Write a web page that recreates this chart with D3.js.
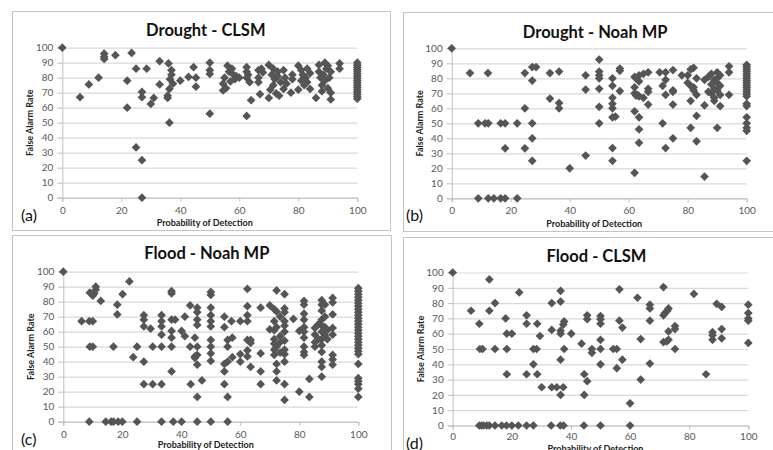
<!DOCTYPE html>
<html lang="en">
<head>
    <meta charset="UTF-8">
    <title>POD vs FAR scatter panels</title>
    <style>
        body, html {
            margin: 0;
            padding: 0;
            width: 773px;
            height: 450px;
            overflow: hidden;
            background: #fff;
        }
        svg { display: block; }
        .frame { fill: #fff; stroke: #c4c4c4; stroke-width: 1px; }
        .grid line { stroke: #d9d9d9; stroke-width: 1.2px; }
        .grid path { display: none; }
        .axis path, .axis line { stroke: #bfbfbf; }
        .axis text { fill: #595959; font: 10px Lato, "Open Sans", sans-serif; }
        .title { font: bold 16.5px Lato, "Open Sans", sans-serif; fill: #111; }
        .axis-title { font: bold 9px Lato, "Open Sans", sans-serif; fill: #222; }
        .tag { font: 16px Lato, "Open Sans", sans-serif; fill: #111; }
        .pt { fill: #555; }
    </style>
</head>
<body>
    <script src="https://d3js.org/d3.v7.min.js"></script>
    <script>
        // [probability of detection, false alarm rate]
        const droughtClsm = [
            [0,100],[6,67],[9,75.5],[12.3,80],[14.2,96],[14.2,94],[14.2,92.5],[18,95],[22,78],[22,60],
            [23.5,96.5],[25,86],[25,33.5],[27,25],[27,0],[27,70.5],[27,67],[28.6,86],[30,62.5],[31,66.5],
            [33,91],[33,75.5],[36,89.5],[36.3,50],[35.7,68],[35.7,66.5],[36.5,79],[37,85],[37,82],[37.5,76],
            [36.3,72.5],[40,78],[42.8,80.5],[44.5,87],[45.3,80],[45.3,74],[50,90],[50,85],[50,82.5],[50,56],
            [54.5,71.5],[54.5,76],[55,80],[55.5,73],[56,88],[56.5,84],[57,77.5],[57.5,86],[58,82],[58.5,79],
            [59,81],[60,80],[62.5,87],[62.5,84],[62.5,80],[62.5,54.5],[63,82],[63.5,77],[64,65],[66.5,85],
            [66.5,80],[66.5,77],[67,69],[67.5,86],[68,83.5],[70,88.5],[70,66.5],[70.5,72],[71,82],[71.5,86],
            [71.5,75],[72,79],[72.5,69.5],[73,84],[73,81],[73.5,68],[74,77],[75,85],[75,72.5],[75.5,80],
            [76,76],[77.5,70],[78,82],[78,79],[80,88],[80,72],[81,85],[81,78],[81.5,82],[82,75],
            [82.5,80],[83,86],[83,77],[84,83],[84,72.5],[86,66.5],[87,88.5],[87,84],[87.5,80],[88,75],
            [88,71],[88.5,82],[89,90],[89,78],[89.5,86],[90,73],[90,88],[90.5,80],[91,65.5],[91,84],
            [91,70],[94,89.5],[94,86],
            [100,90],[100,88.5],[100,87],[100,85.5],[100,84],[100,82.5],[100,81],[100,79.5],[100,78],
            [100,76.5],[100,75],[100,73.5],[100,72],[100,70.5],[100,69],[100,67.5],[100,66]
        ];

        const droughtNoah = [
            [0,100],[6.2,83.5],[12.3,83.5],
            [9,50],[11.3,50],[12.4,50],[16.6,50],[18.1,50],[22.2,50],[27.3,50],
            [9,0],[12.4,0],[14.3,0],[16.6,0],[18.1,0],[22.2,0],
            [18.1,33.3],[24.8,83.5],[24.8,60],[24.8,33.3],[27.3,87.5],[28.6,87.5],[27.3,78.5],[27.3,40],[27.3,25],
            [33.3,83.5],[33.3,66.5],[36.4,84.5],[36.4,63.5],[36.4,60],[40,20],
            [45.4,82],[45.4,72.5],[45.4,28.5],
            [50,92.5],[50,84.5],[50,82],[50,80],[50,73],[50,61],[50,50],
            [54.5,80],[54.5,75],[54.5,67],[54.5,63],[54.5,60],[54.5,54],[55.5,54.5],[54.5,33.5],[54.5,25],
            [57,86.5],[57,85],[57,71.5],
            [62,81],[62.5,80],[62,74],[62,70],[62.5,68.5],[63,69],[62,58],[62,17],
            [63.5,82],[63.5,78],[63.5,68],[63.5,54],[63.5,46],[63.5,37],
            [65,83],[65,67],[66.6,84],[66.6,73],[66.6,71],[66.6,62.5],
            [70.5,84],[71.5,75],[71.5,50],[72.5,84],[72.5,79],[72.5,69],[72.5,33.5],
            [75,85.5],[75,72],[75,71],[75,62.5],[75,40],
            [78,82],[80,82],[80,77],[81,86],[81,75],[81,65],[81,47],[82,87],[82,74],[82,72],
            [83,80],[83,69],[83,55],[83,38],
            [85.7,79],[85.7,62],[85.7,14.5],[87,81],[87,71],[88,83],[88,76],[88,70],
            [89,79],[89,73],[89,67],[89,65],
            [90,84],[90,80],[90,77],[90,72],[90,47],[91,82],[91,75],[91,69],[91,61.5],
            [94,88],[94,84],[94,69],
            [100,89],[100,87.5],[100,86],[100,84.5],[100,83],[100,81.5],[100,80],[100,78.5],[100,77],
            [100,75.5],[100,74],[100,72.5],[100,71],[100,69.5],[100,68],[100,63],[100,61.5],[100,54],
            [100,50],[100,47],[100,45],[100,25]
        ];

        const floodNoah = [
            [0,100],[6.2,67],[8.8,67],[10,67],[9,86],[10,84],[10.5,85.5],[11,88],[11,90],[9,50],[10,50],
            [12.7,80.5],[17,50],[18.3,78],[18.3,71.5],[20.1,85],[22.4,93.5],[23.7,43],[25,50],
            [27.3,71],[27.3,68],[27.3,63.5],[27.3,40],[27.3,25],[29.6,62],[30.3,50],[30.3,25],
            [33.3,71],[33.3,67],[33.3,63.5],[33.3,58],[33.3,50],[33.3,25],
            [36.7,87],[36.7,85.5],[36.7,68],[36.7,60.5],[36.7,56],[36.7,50],[36.7,33.5],[37.9,68],
            [40.1,60.5],[41.2,57],[41.2,70],[43,77.5],[43,50],[43.2,25],
            [44.6,56],[44.6,43.5],[44.6,42.5],[45.4,76],[45.4,73],[45.4,68],[45.4,64.5],[45.4,50],
            [45.4,44.5],[45.4,38],[45.4,16.5],[47,27.5],
            [50,86.5],[50,84.5],[50,76],[50,71],[50,67],[50,63.5],[50,54.5],[50,50],[50,45.5],[50,40.5],
            [54.6,70],[54.6,63],[54.6,38.5],[54.6,33.5],[54.6,25],[55.7,54.5],[55.7,50],[55.7,40],
            [55.7,16.5],[57,67],[57.3,56],[57.3,43],
            [60,67],[60,45],[60,40],[62.4,88.5],[62.4,77],[62.4,71],[62.4,67],[62.4,54.5],[62.4,47.5],
            [62.4,43.5],[63.5,54.5],[63.5,52.5],[63.5,36.5],
            [66.9,76],[66.9,45.5],[66.9,33.5],[66.9,25],[70,77.5],[70,61.5],
            [71.5,75],[71.5,67],[71.5,61],[71.5,55],[71.5,52],[71.5,48],[71.5,44.5],
            [72.3,87.5],[72.3,73.5],[72.3,63],[72.3,50],[72.3,38.5],[72.3,33.5],[72.3,27.5],
            [73.5,70],[73.5,57],[73.5,53],[73.5,46],
            [75,85],[75,75.5],[75,73],[75,67],[75,64],[75,60],[75,54],[75,48],[75,45],[75,40],
            [75,25],[75,14.5],
            [78,68.5],[80,60.5],[80,20],[81.6,80.5],[81.6,78],[81.6,72],[81.6,68],[81.6,63],[81.6,60],
            [81.6,56],[81.6,50],[81.6,46.5],[81.6,44.5],[83.4,28.5],[83.4,16.5],
            [85.3,62.5],[85.3,58],[85.3,53],[85.3,50],[86.5,65],[86.5,55],
            [87.6,81],[87.6,78],[87.6,74],[87.6,68],[87.6,64],[87.6,60],[87.6,55],[87.6,51],[87.6,46.5],
            [87.6,40],[87.6,36.5],[87.6,30],
            [88.7,78],[88.7,70],[88.7,63],[88.7,58],[89.5,61],[89.5,55],
            [91.3,82.5],[91.3,79.5],[91.3,71.5],[91.3,62.5],[91.3,58],[91.3,44.5],[91.3,41.5],[91.3,38],
            [100,89],[100,87],[100,85],[100,83],[100,81],[100,79],[100,77],[100,75],[100,73],[100,71],
            [100,69],[100,67],[100,65],[100,63],[100,61],[100,59],[100,57],[100,55],[100,53],[100,51],
            [100,49],[100,47],[100,45],[100,38.5],[100,29],[100,27],[100,25],[100,22],[100,16.5],
            [8.8,0],[14.4,0],[16.2,0],[17,0],[18.6,0],[20,0],[25,0],[33.3,0],[37.3,0],[40.1,0],
            [45.4,0],[50,0],[55.7,0]
        ];

        const floodClsm = [
            [0,100],[6.2,75],[9,66.5],[9.2,50],[10.1,50],[12.4,95.5],[12.4,75],[14.3,80],[14.3,50],
            [17.9,70],[18.3,60],[18.3,50],[18.3,33.5],[20,60],[22.5,87],[25,72],[25,66.5],[25,33.5],
            [27.3,50],[28.4,50],[27.3,40],[28.6,66.5],[28.6,33.5],[29.5,58.5],[30.1,25],
            [33.5,80],[33.5,62.5],[33.5,25],[35.2,25],[37.4,25],[36.5,88],[36.5,81],[36.5,62],[36.5,60],
            [36.5,43],[36.5,20],[37.4,66],[37.7,68],[37.7,50],
            [40.1,60],[43.6,53.5],[44.5,33.5],[44.5,20],[45.5,72],[45.5,69.5],[45.5,29],[47.1,50],[47.1,47.5],
            [50,71.5],[50,69.5],[50,66.5],[50,56],[50,50],[50,40],
            [54.3,50],[55.5,50],[55.5,37.5],[56.4,68.5],[56.4,89],[57.4,64],[57.4,43],[60,14.5],
            [62.5,83.5],[63.6,56.5],[63.6,30],[66.7,79],[66.7,76.5],[66.7,68.5],[66.7,40.5],
            [71.3,90.5],[71.3,72],[71.8,73.5],[71.3,54.5],[72.4,55],[72.6,75],[73,76.5],[73,61.5],[73,56],
            [75.2,65],[75.2,63],[75.2,50],[81.6,86],[85.7,33.5],[87.9,61],[87.9,59],[87.9,56],
            [89.3,79.5],[91,77.5],[91,63],[91,57],
            [100,79],[100,73.5],[100,70],[100,68.5],[100,54],
            [9,0],[9.7,0],[10.4,0],[11.5,0],[12.4,0],[14.3,0],[16.6,0],[18.2,0],[20,0],[22.2,0],
            [25,0],[27.3,0],[33.3,0],[36.4,0],[37.5,0],[44.4,0],[50,0],[60,0]
        ];

        const xTicks = [0, 20, 40, 60, 80, 100];
        const yTicks = [0, 10, 20, 30, 40, 50, 60, 70, 80, 90, 100];
        const xTitle = "Probability of Detection";
        const yTitle = "False Alarm Rate";

        // layout of the four boxes: frame [x0,y0,x1,y1], plot area [left,top,right,bottom]
        const panels = [
            { title: "Drought - CLSM", tag: "(a)", data: droughtClsm,
              frame: [12, 11, 391, 231], plot: [62.3, 47.7, 357.3, 197.7], titleY: 36, tagX: 21, xTitleY: 226, pad: 5 },
            { title: "Drought - Noah MP", tag: "(b)", data: droughtNoah,
              frame: [403, 12, 780, 232], plot: [451.7, 48.3, 746.7, 198.3], titleY: 37.5, tagX: 406, xTitleY: 226.5, pad: 5 },
            { title: "Flood - Noah MP", tag: "(c)", data: floodNoah,
              frame: [12, 235, 392, 460], plot: [63.3, 271.7, 358.3, 421.7], titleY: 259, tagX: 21, xTitleY: 447.5, pad: 5 },
            { title: "Flood - CLSM", tag: "(d)", data: floodClsm,
              frame: [403, 237, 780, 460], plot: [452.7, 272.5, 748.3, 425.5], titleY: 261.5, tagX: 406, xTitleY: 451.5, pad: 3 }
        ];

        const svg = d3.select("body").append("svg")
            .attr("width", 773)
            .attr("height", 450);

        const diamond = d3.symbol().type(d3.symbolSquare).size(38);

        panels.forEach(p => {
            const [fx0, fy0, fx1, fy1] = p.frame;
            const [left, top, right, bottom] = p.plot;

            const clipId = "clip-" + p.tag.replace(/[()]/g, "");
            svg.append("clipPath").attr("id", clipId)
                .append("rect")
                .attr("x", fx0).attr("y", fy0)
                .attr("width", fx1 - fx0).attr("height", fy1 - fy0);

            const g = svg.append("g").attr("clip-path", `url(#${clipId})`);

            g.append("rect").attr("class", "frame")
                .attr("x", fx0 + 0.5).attr("y", fy0 + 0.5)
                .attr("width", fx1 - fx0 - 1).attr("height", fy1 - fy0 - 1);

            const x = d3.scaleLinear().domain([0, 100]).range([left, right]);
            const y = d3.scaleLinear().domain([0, 100]).range([bottom, top]);

            // horizontal gridlines
            g.append("g").attr("class", "grid")
                .attr("transform", `translate(${left},0)`)
                .call(d3.axisLeft(y).tickValues(yTicks).tickSize(-(right - left)).tickFormat(""));

            g.append("g").attr("class", "axis")
                .attr("transform", `translate(${left},0)`)
                .call(d3.axisLeft(y).tickValues(yTicks).tickSizeOuter(0).tickSize(5).tickPadding(4));

            g.append("g").attr("class", "axis")
                .attr("transform", `translate(0,${bottom})`)
                .call(d3.axisBottom(x).tickValues(xTicks).tickSizeOuter(0).tickSize(4).tickPadding(p.pad));

            const cx = (left + right) / 2;
            g.append("text").attr("class", "title")
                .attr("x", cx - 4).attr("y", p.titleY)
                .attr("text-anchor", "middle")
                .text(p.title);

            g.append("text").attr("class", "axis-title")
                .attr("transform", `translate(${left - 29},${(top + bottom) / 2}) rotate(-90)`)
                .attr("text-anchor", "middle")
                .text(yTitle);

            g.append("text").attr("class", "axis-title")
                .attr("x", cx - 5).attr("y", p.xTitleY)
                .attr("text-anchor", "middle")
                .text(xTitle);

            g.append("text").attr("class", "tag")
                .attr("x", p.tagX).attr("y", bottom + 23)
                .text(p.tag);

            g.selectAll(".pt").data(p.data).join("path")
                .attr("class", "pt")
                .attr("d", diamond)
                .attr("transform", d => `translate(${x(d[0])},${y(d[1])}) rotate(45)`);
        });
    </script>
</body>
</html>
